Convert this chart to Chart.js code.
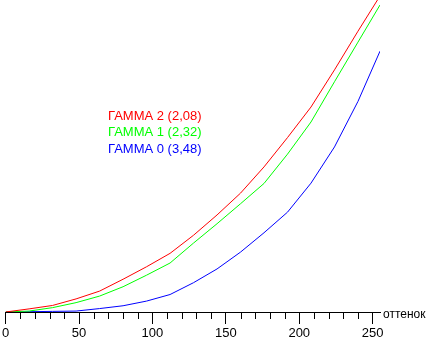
<!DOCTYPE html>
<html>
<head>
<meta charset="utf-8">
<script src="https://cdn.jsdelivr.net/npm/chart.js@4/dist/chart.umd.min.js"></script>
<style>
  html, body { margin: 0; padding: 0; background: #fff; }
  #wrap { width: 429px; height: 339px; }
</style>
</head>
<body>
<div id="wrap"><canvas id="gamma"></canvas></div>
<script>
// оттенок (shade) values where the curves were read
const shades = [0, 16, 32, 48, 64, 80, 96, 112, 128, 144, 160, 176, 192, 208, 224, 240, 255];
// relative brightness, % of plot height
const gamma2 = [0, 1.0, 2.1, 4.2, 6.7, 10.5, 14.5, 18.8, 24.6, 31.1, 38.1, 46.5, 55.9, 65.7, 77.6, 90.0, 101.3];
const gamma1 = [0, 0.3, 1.4, 3.0, 5.1, 8.1, 11.8, 15.7, 22.1, 28.3, 34.7, 41.2, 50.6, 60.9, 73.8, 86.5, 98.4];
const gamma0 = [0, 0.1, 0.2, 0.3, 1.1, 2.0, 3.5, 5.6, 9.4, 13.8, 19.2, 25.4, 32.0, 41.3, 52.9, 67.5, 83.6];
const seriesNames = ['ГАММА 2 (2,08)', 'ГАММА 1 (2,32)', 'ГАММА 0 (3,48)'];
const seriesColors = ['#ff0000', '#00ff00', '#0000ff'];
const axisName = 'оттенок';

Chart.defaults.font.family = '"Liberation Sans", Arial, sans-serif';
Chart.defaults.font.size = 13;
Chart.defaults.color = '#000';

const toPoints = vals => vals.map((v, i) => ({ x: shades[i], y: v }));

const decor = {
  id: 'decor',
  afterDraw(chart) {
    const { ctx, chartArea } = chart;
    const x = chart.scales.x;
    ctx.save();
    // minor ticks every 10
    ctx.strokeStyle = '#000';
    ctx.lineWidth = 1;
    ctx.beginPath();
    for (let v = 10; v <= 250; v += 10) {
      if (v % 50 === 0) continue;
      const px = Math.round(x.getPixelForValue(v)) + 0.5;
      ctx.moveTo(px, chartArea.bottom);
      ctx.lineTo(px, chartArea.bottom + 7);
    }
    ctx.stroke();
    ctx.fillStyle = '#000';
    ctx.textBaseline = 'alphabetic';
    ctx.font = '12px ' + Chart.defaults.font.family;
    ctx.fillText(axisName, chartArea.right + 3, chartArea.bottom + 6);
    // text legend
    ctx.font = Chart.defaults.font.size + 'px ' + Chart.defaults.font.family;
    seriesNames.forEach((name, i) => {
      ctx.fillStyle = seriesColors[i];
      ctx.fillText(name, 108, 120 + i * 16.3);
    });
    ctx.restore();
  }
};

new Chart(document.getElementById('gamma'), {
  type: 'line',
  data: {
    datasets: [gamma2, gamma1, gamma0].map((vals, i) => ({
      label: seriesNames[i],
      data: toPoints(vals),
      borderColor: seriesColors[i],
      borderWidth: 1,
      pointRadius: 0,
      tension: 0,
      fill: false
    }))
  },
  options: {
    responsive: true,
    maintainAspectRatio: false,
    animation: false,
    layout: { padding: { left: 4, right: 49, top: 0, bottom: 0 } },
    plugins: { legend: { display: false }, tooltip: { enabled: false } },
    scales: {
      x: {
        type: 'linear',
        min: 0,
        max: 255,
        ticks: { stepSize: 50, includeBounds: false, maxRotation: 0, padding: 2 },
        grid: { drawOnChartArea: false, tickLength: 12, tickColor: '#000' },
        border: { color: '#000' },
        afterFit: s => { s.height = 27; }
      },
      y: {
        display: false,
        min: 0,
        max: 100
      }
    }
  },
  plugins: [decor]
});
</script>
</body>
</html>
